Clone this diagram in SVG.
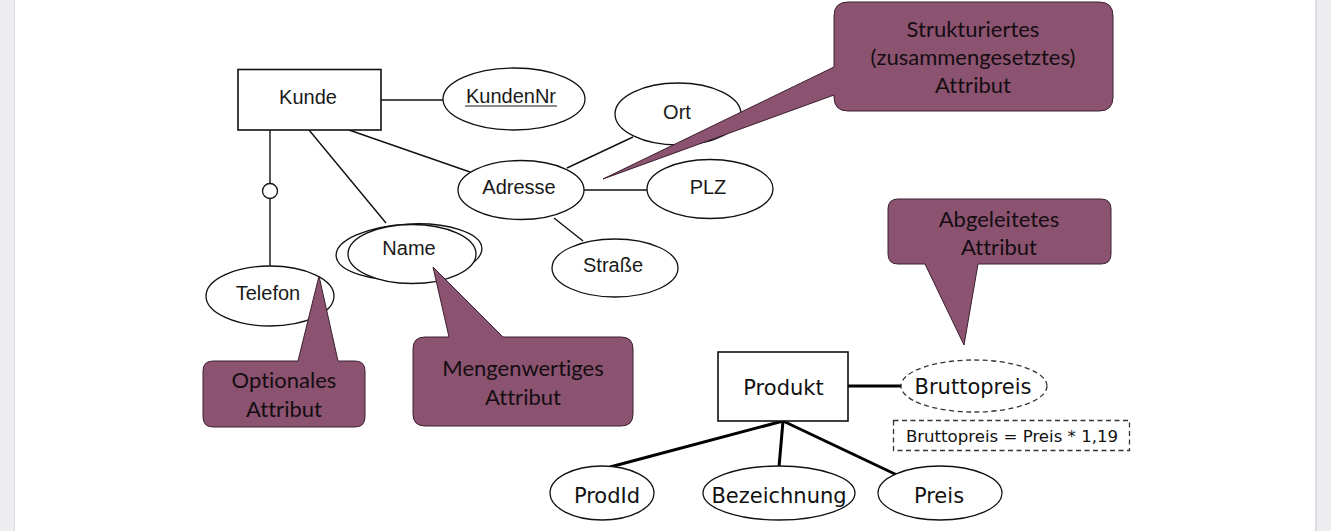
<svg xmlns="http://www.w3.org/2000/svg" width="1331" height="531" viewBox="0 0 1331 531">
<style>
.ent{fill:#fff;stroke:#111;stroke-width:1.6}
.att{fill:#fff;stroke:#111;stroke-width:1.3}
.ln{stroke:#111;stroke-width:1.4;fill:none}
.thick{stroke:#000;stroke-width:3;fill:none}
.er{font-family:"Liberation Sans",Arial,sans-serif;font-size:20px;fill:#1a1a1a;text-anchor:middle}
.vd{font-family:"DejaVu Sans",Verdana,sans-serif;font-size:21px;fill:#111;text-anchor:middle}
.call{fill:#8b5370;stroke:#3b2030;stroke-width:1}
.ct{font-family:Lato,"Open Sans",sans-serif;font-size:22px;fill:#150d12;text-anchor:middle;font-variant-ligatures:none}
.dash{fill:#fff;stroke:#333;stroke-width:1.3;stroke-dasharray:5 3.5}
</style>
<rect x="0" y="0" width="1331" height="531" fill="#ececf1"/>
<rect x="14" y="0" width="1302" height="531" fill="#fff"/>
<line x1="14.5" y1="0" x2="14.5" y2="531" stroke="#dcdce2" stroke-width="1"/>
<line x1="1316" y1="0" x2="1316" y2="531" stroke="#d6d6dc" stroke-width="1.5"/>

<g id="connectors">
<line class="ln" x1="381" y1="100" x2="443" y2="100"/>
<line class="ln" x1="270" y1="130" x2="270" y2="266"/>
<line class="ln" x1="309" y1="130" x2="386" y2="223"/>
<line class="ln" x1="349" y1="130" x2="470" y2="172"/>
<line class="ln" x1="567" y1="168" x2="633" y2="137"/>
<line class="ln" x1="584" y1="190" x2="647" y2="190"/>
<line class="ln" x1="554" y1="218" x2="583" y2="241"/>
<circle cx="270" cy="191" r="7.5" fill="#fff" stroke="#111" stroke-width="1.3"/>
<line class="thick" x1="848" y1="386" x2="901" y2="386"/>
<line class="thick" x1="783" y1="421" x2="610" y2="467"/>
<line class="thick" x1="783" y1="421" x2="779" y2="467"/>
<line class="thick" x1="783" y1="421" x2="897" y2="475"/>
</g>

<g id="kunde">
<rect class="ent" x="238" y="69.5" width="143" height="60.5"/>
<text class="er" x="308" y="104">Kunde</text>
</g>
<g id="kundennr">
<ellipse class="att" cx="514" cy="99" rx="71" ry="31"/>
<text class="er" x="511" y="103">KundenNr</text>
<line x1="465" y1="106" x2="557" y2="106" stroke="#1a1a1a" stroke-width="1.2"/>
</g>
<g id="ort">
<ellipse class="att" cx="678" cy="114" rx="63" ry="31"/>
<text class="er" x="677" y="119">Ort</text>
</g>
<g id="adresse">
<ellipse class="att" cx="521" cy="190" rx="63" ry="29.5"/>
<text class="er" x="519" y="194">Adresse</text>
</g>
<g id="plz">
<ellipse class="att" cx="710" cy="189" rx="63" ry="29.5"/>
<text class="er" x="708" y="194">PLZ</text>
</g>
<g id="strasse">
<ellipse class="att" cx="615" cy="268" rx="63" ry="29"/>
<text class="er" x="613" y="272">Straße</text>
</g>
<g id="name">
<ellipse class="att" cx="409" cy="252" rx="73" ry="28" transform="rotate(-3 409 252)"/>
<ellipse class="att" cx="412" cy="254" rx="64" ry="29.5"/>
<text class="er" x="409" y="255">Name</text>
</g>
<g id="telefon">
<ellipse class="att" cx="270" cy="296" rx="64" ry="30"/>
<text class="er" x="268" y="300">Telefon</text>
</g>

<g id="produkt">
<rect class="ent" x="718" y="352" width="130" height="69" stroke-width="1.3"/>
<text class="vd" x="783.5" y="395">Produkt</text>
</g>
<g id="bruttopreis">
<ellipse class="dash" cx="974" cy="386" rx="73" ry="26"/>
<text class="vd" x="973" y="394">Bruttopreis</text>
</g>
<g id="formel">
<rect class="dash" x="893.5" y="420.5" width="236" height="30" stroke-width="1.2"/>
<text class="vd" x="1012" y="442" style="font-size:16.6px">Bruttopreis = Preis * 1,19</text>
</g>
<g id="prodid">
<ellipse class="att" cx="602" cy="493" rx="52" ry="27"/>
<text class="vd" x="607" y="503">ProdId</text>
</g>
<g id="bezeichnung">
<ellipse class="att" cx="779" cy="493" rx="76" ry="27"/>
<text class="vd" x="779" y="503">Bezeichnung</text>
</g>
<g id="preis">
<ellipse class="att" cx="940" cy="493" rx="62" ry="27"/>
<text class="vd" x="939" y="503">Preis</text>
</g>

<g id="callout-strukturiert">
<path class="call" d="M848,2 H1099 Q1113,2 1113,16 V97 Q1113,111 1099,111 H848 Q834,111 834,97 V95 L603,179 L834,67 V16 Q834,2 848,2 Z"/>
<text class="ct" x="973" y="37">Strukturiertes</text>
<text class="ct" x="973" y="65">(zusammengesetztes)</text>
<text class="ct" x="973" y="93">Attribut</text>
</g>
<g id="callout-optional">
<path class="call" d="M213,361 H298 L319,276 L338,361 H355 Q365,361 365,371 V417 Q365,427 355,427 H213 Q203,427 203,417 V371 Q203,361 213,361 Z"/>
<text class="ct" x="284" y="388">Optionales</text>
<text class="ct" x="284" y="417">Attribut</text>
</g>
<g id="callout-mengenwertig">
<path class="call" d="M425,337 H449 L433,267 L503,337 H621 Q633,337 633,349 V414 Q633,426 621,426 H425 Q413,426 413,414 V349 Q413,337 425,337 Z"/>
<text class="ct" x="523" y="376">Mengenwertiges</text>
<text class="ct" x="523" y="405">Attribut</text>
</g>
<g id="callout-abgeleitet">
<path class="call" d="M898,199 H1101 Q1111,199 1111,209 V254 Q1111,264 1101,264 H978 L964,345 L925,264 H898 Q888,264 888,254 V209 Q888,199 898,199 Z"/>
<text class="ct" x="999" y="227">Abgeleitetes</text>
<text class="ct" x="999" y="255">Attribut</text>
</g>
</svg>
